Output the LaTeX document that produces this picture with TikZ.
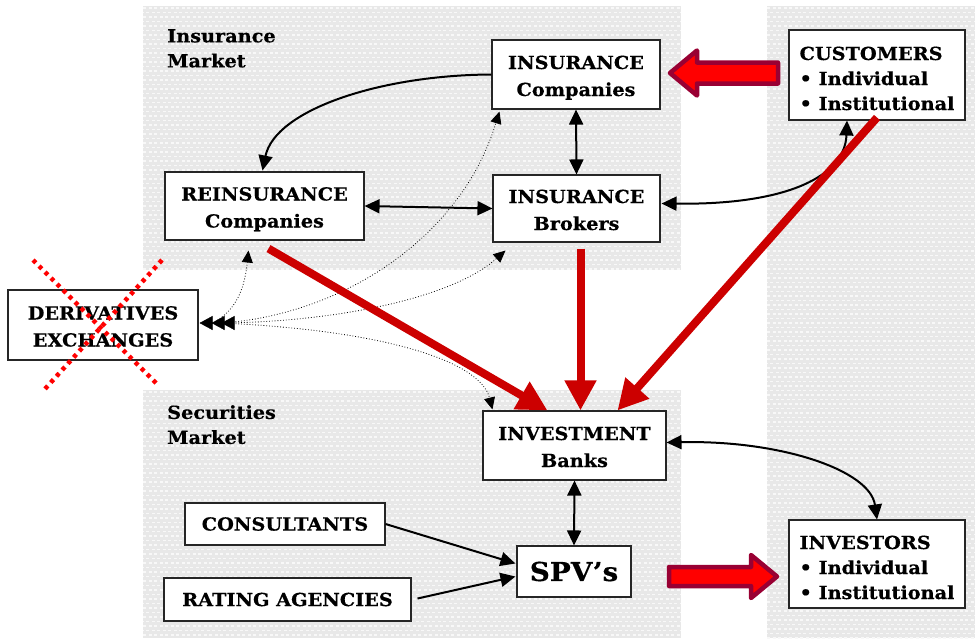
\documentclass[tikz,border=0pt]{standalone}
\usepackage{fontspec}
\setmainfont{DejaVu Serif}[BoldFeatures={FakeStretch=1.07,FakeBold=0.4}]
\usetikzlibrary{arrows.meta,calc}
\definecolor{panelbase}{RGB}{232,232,232}
\definecolor{paneldot}{RGB}{248,248,248}
\definecolor{flowred}{RGB}{204,0,0}
\definecolor{blockfill}{RGB}{255,0,0}
\definecolor{blockedge}{RGB}{153,0,51}
\definecolor{crossred}{RGB}{255,0,0}
\newcommand\boxfont{\bfseries\fontsize{18}{27}\selectfont}
\newcommand\listfont{\bfseries\fontsize{18}{25}\selectfont}

% light textured panel: grey ground with staggered rows of pale dashes
\newcommand\mkpanel[4]{%
  \fill[panelbase] (#1,#2) rectangle (#3,#4);
  \begin{scope}
    \clip (#1,#2) rectangle (#3,#4);
    \foreach \k in {0,...,71} {
      \draw[paneldash] (#1,#2+\k*9+2) -- (#3,#2+\k*9+2);
      \draw[paneldash] (#1-2.5,#2+\k*9+6.5) -- (#3,#2+\k*9+6.5);
    }
  \end{scope}}

\begin{document}
\begin{tikzpicture}[x=1pt,y=-1pt,
  paneldash/.style={paneldot, line width=1.3pt, dash pattern=on 3pt off 2.5pt},
  box/.style={draw=black!85, line width=1.1pt, fill=white, inner sep=0pt,
              align=center, font=\boxfont},
  % height/depth are measured from the baseline of the last line
  twoline/.style={box, text height=48pt, text depth=5pt},
  listbox/.style={box, align=left, minimum width=176pt, font=\listfont,
              text height=72pt, text depth=2pt},
  lbl/.style={anchor=north west, align=left, inner sep=0pt, font=\listfont},
  link/.style={line width=2pt, {Triangle[length=15pt,width=14pt]}-{Triangle[length=15pt,width=14pt]}},
  onelink/.style={line width=2pt, -{Triangle[length=15pt,width=14pt]}},
  hedge/.style={line width=0.8pt, dotted, -{Triangle[length=12pt,width=11pt]}},
  hedgetip/.style={-{Triangle[length=13pt,width=14pt]}},
  flow/.style={flowred, line width=8pt, -{Triangle[length=30pt,width=30pt]}},
  blockarrow/.style={fill=blockfill, draw=blockedge, line width=4.5pt, line join=round},
  cross/.style={crossred, line width=4.5pt, dash pattern=on 4pt off 4.5pt}]

\useasboundingbox (0,0) rectangle (975,638);

% market panels
\mkpanel{143}{6}{681}{270}
\mkpanel{143}{390}{681}{638}
\mkpanel{767}{6}{975}{638}

% panel titles
\node[lbl] (imlabel) at (167,29) {Insurance\\Market};
\node[lbl] (smlabel) at (167,405) {Securities\\Market};

% boxes
\node[twoline, minimum width=168pt, minimum height=69pt] (icomp) at (576,74.5) {INSURANCE\\Companies};
\node[twoline, minimum width=199pt, minimum height=68pt] (reins) at (264.5,206) {REINSURANCE\\Companies};
\node[twoline, minimum width=167pt, minimum height=67pt] (brok) at (576.5,208.5) {INSURANCE\\Brokers};
\node[twoline, minimum width=190pt, minimum height=70pt] (deriv) at (103,325) {DERIVATIVES\\EXCHANGES};
\node[twoline, minimum width=183pt, minimum height=69pt] (ibank) at (574.5,445.5) {INVESTMENT\\Banks};
\node[box, minimum width=200pt, minimum height=42pt] (cons) at (285,524) {CONSULTANTS};
\node[box, minimum width=247pt, minimum height=43pt] (rate) at (287.5,599.5) {RATING AGENCIES};
\node[box, minimum width=114pt, minimum height=51pt, font=\bfseries\fontsize{26}{30}\selectfont] (spv) at (574,571.5) {SPV’s};
\node[listbox, minimum height=90pt] (cust) at (877,75) {CUSTOMERS\\• Individual\\• Institutional};
\node[listbox, minimum height=88pt] (inv) at (877,564) {INVESTORS\\• Individual\\• Institutional};

% black relations
\draw[onelink] (icomp.west) .. controls (380,75) and (275,110) .. ($(reins.north)+(-2,-1)$);
\draw[link] (icomp.south) -- (brok.north);
\draw[link] (reins.east) -- (brok.west);
\draw[link] ($(brok.east)+(1,-5)$) .. controls (790,205) and (845,175) .. ($(cust.south)+(-30,0)$);
\draw[link] (ibank.south) -- (spv.north);
\draw[link] ($(ibank.east)+(0,-3)$) .. controls (780,440) and (870,470) .. (inv.north);
\draw[onelink] (cons.east) -- ($(spv.west)+(-1,-8)$);
\draw[onelink] ($(rate.east)+(6,-1)$) -- ($(spv.west)+(-1,5)$);

% dotted hedging links to the exchanges
\draw[hedge] ($(deriv.east)+(14,-2)$) .. controls (238,310) and (245,285) .. ($(reins.south)+(-16,10)$);
\draw[hedge] ($(deriv.east)+(23,-2)$) .. controls (340,315) and (460,240) .. ($(icomp.south west)+(8,2)$);
\draw[hedge] ($(deriv.east)+(23,-2)$) .. controls (330,322) and (450,300) .. ($(brok.south west)+(13,8)$);
\draw[hedge] ($(deriv.east)+(23,-2)$) .. controls (380,330) and (480,360) .. ($(ibank.north west)+(10,-1)$);
\draw[hedgetip] ($(deriv.east)+(14,-2)$) -- ($(deriv.east)+(1,-2)$);
\draw[hedgetip] ($(deriv.east)+(24,-2)$) -- ($(deriv.east)+(13,-2)$);
\draw[hedgetip] ($(deriv.east)+(34,-2)$) -- ($(deriv.east)+(23,-2)$);

% red flows into the investment banks
\draw[flow] ($(reins.south)+(4,8)$) -- ($(ibank.north)+(-27,0)$);
\draw[flow] ($(brok.south)+(4,6)$) -- ($(ibank.north)+(6,0)$);
\draw[flow] ($(cust.south)+(0,-3)$) -- ($(ibank.north)+(43,0)$);

% block arrows: premiums in, securities out
\draw[blockarrow] (670,73) -- (697,50.5) -- (697,62.5) -- (778,62.5) -- (778,83.5)
  -- (697,83.5) -- (697,95.5) -- cycle;
\draw[blockarrow] (777,576.5) -- (751,555) -- (751,567) -- (669,567) -- (669,586)
  -- (751,586) -- (751,598) -- cycle;

% exchanges struck out
\draw[cross] (33,260) -- (158,385);
\draw[cross] (162,260) -- (44,390);
\end{tikzpicture}
\end{document}
